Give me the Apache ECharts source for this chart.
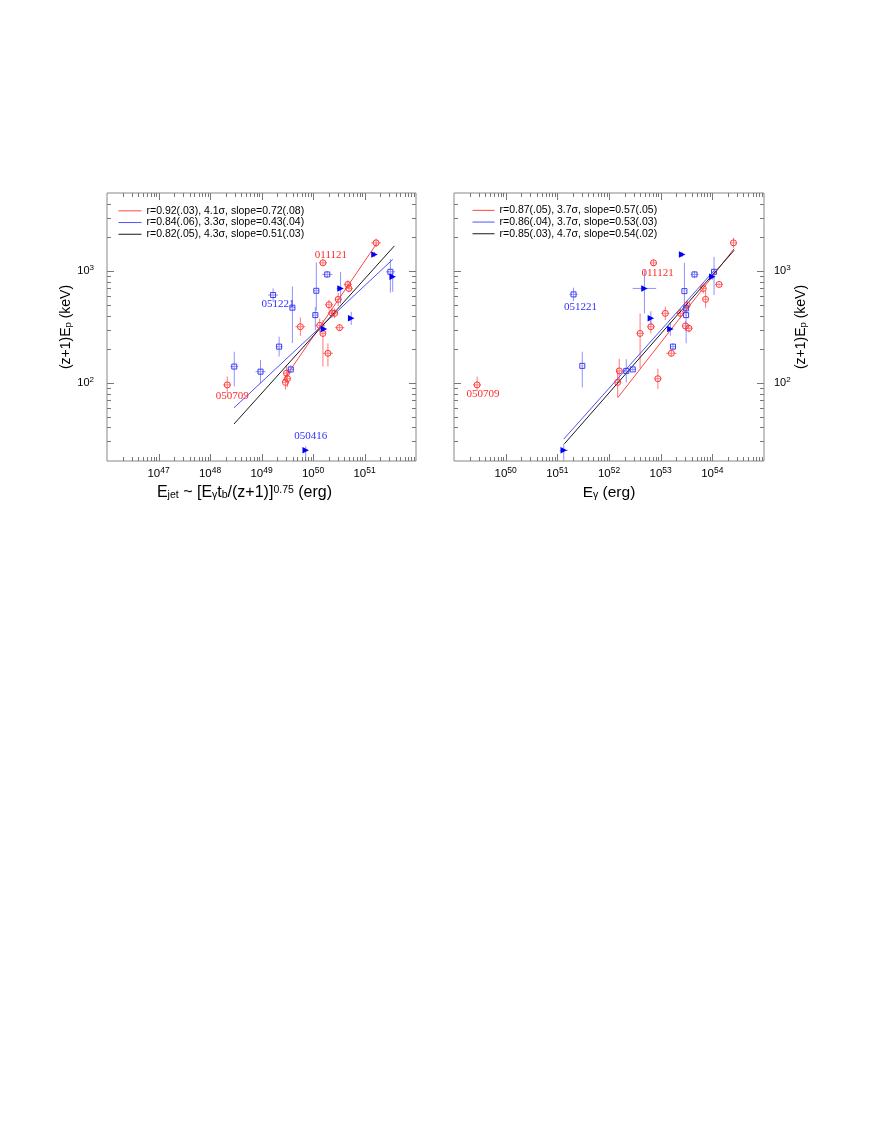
<!DOCTYPE html>
<html><head><meta charset="utf-8">
<script src="https://cdn.jsdelivr.net/npm/echarts@6/dist/echarts.min.js"></script>
<style>html,body{margin:0;padding:0;background:#fff}#c{width:872px;height:1128px}</style>
</head><body><div id="c"></div>
<script>
// ---------- DATA: each point = [x, y, xLow, xHigh, yLow, yHigh] ----------
const leftRed = [
  [1.68e51, 1790, 1.35e51, 2.09e51, 1640, 1960],
  [1.56e50, 1186, 1.31e50, 1.87e50, 1107, 1271],
  [4.75e50, 760, 3.98e50, 5.66e50, 700, 826],
  [4.98e50, 700, 4.17e50, 5.94e50, 645, 760],
  [3.09e50, 559, 2.66e50, 3.59e50, 487, 641],
  [2.04e50, 500, 1.71e50, 2.44e50, 451, 555],
  [2.33e50, 422, 1.95e50, 2.79e50, 380, 467],
  [2.63e50, 419, 2.26e50, 3.05e50, 378, 464],
  [5.69e49, 318, 4.55e49, 7.11e49, 263, 385],
  [1.35e50, 327, 1.08e50, 1.69e50, 285, 376],
  [3.28e50, 312, 2.67e50, 4.04e50, 291, 335],
  [1.56e50, 277, 1.39e50, 1.75e50, 140, 365],
  [1.95e50, 184, 1.56e50, 2.44e50, 140, 226],
  [3.05e49, 122, 2.63e49, 3.53e49, 103, 145],
  [3.19e49, 109, 2.75e49, 3.69e49, 92, 129],
  [2.92e49, 101, 2.52e49, 3.38e49, 87, 117],
  [2.16e48, 96, 1.81e48, 2.58e48, 81, 114]
];
const leftBlueSq = [
  [2.96e48, 140, 2.48e48, 3.53e48, 93, 190],
  [9.57e48, 126, 7.66e48, 1.20e49, 99, 160],
  [2.20e49, 211, 1.89e49, 2.56e49, 172, 259],
  [3.70e49, 132, 3.18e49, 4.30e49, 122, 144],
  [1.68e49, 611, 1.34e49, 2.10e49, 532, 701],
  [3.98e49, 471, 3.55e49, 4.47e49, 227, 728],
  [1.16e50, 667, 1.04e50, 1.30e50, 442, 1194],
  [1.11e50, 404, 1.00e50, 1.24e50, 297, 479],
  [1.89e50, 934, 1.51e50, 2.37e50, 870, 1003],
  [3.18e51, 986, 2.60e51, 3.91e51, 643, 1280]
];
const leftBlueTri = [
  [1.56e51, 1408, 1.45e51, 1.68e51, 1333, 1488],
  [3.53e51, 890, 3.40e51, 3.66e51, 653, 955],
  [3.43e50, 700, 2.87e50, 3.59e50, 514, 985],
  [5.52e50, 378, 5.30e50, 5.75e50, 330, 432],
  [1.63e50, 303, 1.50e50, 1.70e50, 283, 325],
  [7.21e49, 24.9, 7.00e49, 7.40e49, 15, 27]
];
const rightRed = [
  [2.57e54, 1790, 2.28e54, 2.90e54, 1615, 1985],
  [7.28e52, 1186, 6.27e52, 8.45e52, 1107, 1271],
  [1.35e54, 760, 1.13e54, 1.62e54, 735, 786],
  [6.67e53, 700, 5.94e53, 7.48e53, 631, 776],
  [7.41e53, 559, 6.60e53, 8.30e53, 471, 663],
  [3.25e53, 497, 2.90e53, 3.65e53, 448, 551],
  [2.41e53, 419, 2.01e53, 2.88e53, 378, 464],
  [1.23e53, 419, 1.03e53, 1.47e53, 365, 481],
  [6.46e52, 318, 5.40e52, 7.72e52, 277, 365],
  [3.02e53, 323, 2.70e53, 3.40e53, 291, 358],
  [3.51e53, 308, 2.93e53, 4.20e53, 283, 335],
  [1.61e53, 184, 1.28e53, 2.02e53, 172, 197],
  [4.00e52, 277, 3.44e52, 4.65e52, 135, 418],
  [1.58e52, 128, 1.40e52, 1.77e52, 100, 164],
  [1.47e52, 101, 1.31e52, 1.65e52, 74, 131],
  [8.83e52, 109, 7.60e52, 1.03e53, 88, 134],
  [2.80e49, 96, 2.34e49, 3.35e49, 84, 114]
];
const rightBlueSq = [
  [2.06e51, 619, 1.72e51, 2.47e51, 539, 711],
  [3.04e51, 142, 2.90e51, 3.20e51, 91, 190],
  [2.16e52, 128, 1.78e52, 2.62e52, 101, 163],
  [2.88e52, 132, 2.48e52, 3.34e52, 128, 137],
  [1.73e53, 211, 1.58e53, 1.90e53, 197, 226],
  [2.88e53, 662, 2.75e53, 3.02e53, 438, 1185],
  [3.11e53, 404, 2.97e53, 3.26e53, 226, 497],
  [3.11e53, 464, 2.97e53, 3.26e53, 416, 517],
  [4.52e53, 934, 3.78e53, 5.41e53, 870, 1003],
  [1.08e54, 986, 1.03e54, 1.13e54, 611, 1342]
];
const rightBlueTri = [
  [2.60e53, 1408, 2.42e53, 2.80e53, 1333, 1488],
  [1.00e54, 890, 9.50e53, 1.05e54, 837, 946],
  [4.85e52, 700, 2.87e52, 8.20e52, 419, 1023],
  [6.46e52, 378, 6.15e52, 6.80e52, 326, 438],
  [1.54e53, 303, 1.47e53, 1.61e53, 264, 348],
  [1.33e51, 24.9, 1.11e51, 1.60e51, 15, 28.6]
];
// fit lines: [start, end]
const leftFitRed = [[2.55e49, 102.8], [1.73e51, 1766]];
const leftFitBlue = [[2.92e48, 59.8], [3.53e51, 1271]];
const leftFitBlack = [[2.92e48, 42.8], [3.81e51, 1683]];
const rightFitRed = [[1.49e52, 74], [2.65e54, 1592]];
const rightFitBlue = [[1.33e51, 31.4], [1.13e54, 1035]];
const rightFitBlack = [[1.37e51, 28.5], [2.65e54, 1540]];
// legend texts
const leftLegend = ['r=0.92(.03), 4.1\u03c3, slope=0.72(.08)', 'r=0.84(.06), 3.3\u03c3, slope=0.43(.04)', 'r=0.82(.05), 4.3\u03c3, slope=0.51(.03)'];
const rightLegend = ['r=0.87(.05), 3.7\u03c3, slope=0.57(.05)', 'r=0.86(.04), 3.7\u03c3, slope=0.53(.03)', 'r=0.85(.03), 4.7\u03c3, slope=0.54(.02)'];
// axis ranges (decade exponents) and labelled tick exponents
const leftXRange = [46, 52];
const rightXRange = [49, 55];
const yRange = [20, 5000];
const leftXTickExps = [47, 48, 49, 50, 51];
const rightXTickExps = [50, 51, 52, 53, 54];
const yTickExps = [2, 3];
// burst labels: [text, group, index]
const leftNotes = [['011121', 'red', 1], ['051221', 'sq', 4], ['050709', 'red', 16], ['050416', 'tri', 5]];
const rightNotes = [['011121', 'red', 1], ['051221', 'sq', 0], ['050709', 'red', 16]];

// ---------- STYLE ----------
const SANS = '"Liberation Sans", Arial, Helvetica, sans-serif';
const SERIF = '"Liberation Serif", "Times New Roman", serif';
const RED = '#ff3535', RED_ERR = '#ff7a7a';
const BLUE = '#3c3cf0', BLUE_ERR = '#9090ff', TRI = '#0000f5';
const noteOffsets = {
  'L011121': [8, -8], 'L051221': [5, 9], 'L050709': [5, 11], 'L050416': [5, -14],
  'R011121': [4, 10], 'R051221': [7, 13], 'R050709': [6, 9]
};
const noteColor = { red: '#ff2a2a', sq: '#3030ff', tri: '#3030ff' };

const chart = echarts.init(document.getElementById('c'));

function errRender(color) {
  return function (params, api) {
    const c = api.coord([api.value(0), api.value(1)]);
    const xl = api.coord([api.value(2), api.value(1)]);
    const xh = api.coord([api.value(3), api.value(1)]);
    const yl = api.coord([api.value(0), api.value(4)]);
    const yh = api.coord([api.value(0), api.value(5)]);
    const st = { stroke: color, lineWidth: 1 };
    return { type: 'group', children: [
      { type: 'line', shape: { x1: xl[0], y1: c[1], x2: xh[0], y2: c[1] }, style: st },
      { type: 'line', shape: { x1: c[0], y1: yl[1], x2: c[0], y2: yh[1] }, style: st }
    ] };
  };
}
function tickRender(params, api) {
  const cs = params.coordSys;
  const kind = api.value(2), major = api.value(3);
  const len = major ? 7 : 4;
  const st = { stroke: '#777', lineWidth: 1 };
  if (kind === 0) {
    const x = Math.round(api.coord([api.value(0), api.value(1)])[0]) + 0.5;
    const b = cs.y + cs.height, t = cs.y;
    return { type: 'group', children: [
      { type: 'line', shape: { x1: x, y1: b, x2: x, y2: b - len }, style: st },
      { type: 'line', shape: { x1: x, y1: t, x2: x, y2: t + len }, style: st }
    ] };
  } else {
    const y = Math.round(api.coord([api.value(0), api.value(1)])[1]) + 0.5;
    const l = cs.x, r = cs.x + cs.width;
    return { type: 'group', children: [
      { type: 'line', shape: { x1: l, y1: y, x2: l + len, y2: y }, style: st },
      { type: 'line', shape: { x1: r, y1: y, x2: r - len, y2: y }, style: st }
    ] };
  }
}
function tickData(xr) {
  const out = [];
  const xref = Math.pow(10, (xr[0] + xr[1]) / 2);
  for (let e = xr[0]; e < xr[1]; e++) {
    for (let m = 1; m <= 9; m++) {
      if (e === xr[0] && m === 1) continue;
      out.push([m * Math.pow(10, e), 300, 0, m === 1 ? 1 : 0]);
    }
  }
  for (let e = 1; e <= 3; e++) {
    for (let m = 1; m <= 9; m++) {
      const v = m * Math.pow(10, e);
      if (v <= yRange[0] || v >= yRange[1]) continue;
      out.push([xref, v, 1, m === 1 ? 1 : 0]);
    }
  }
  return out;
}
function decadeFormatter(exps) {
  return function (v) {
    const e = Math.log10(v), r = Math.round(e);
    if (Math.abs(e - r) > 1e-6 || exps.indexOf(r) < 0) return '';
    return '{b|10}{s|' + r + '}';
  };
}
const xTickRich = {
  b: { fontSize: 11.5, fontFamily: SANS, color: '#000', lineHeight: 15 },
  s: { fontSize: 8.5, fontFamily: SANS, color: '#000', verticalAlign: 'top', lineHeight: 10 }
};
const yTickRich = {
  b: { fontSize: 11, fontFamily: SANS, color: '#000', lineHeight: 14 },
  s: { fontSize: 8, fontFamily: SANS, color: '#000', verticalAlign: 'top', lineHeight: 9 }
};
const titleRich = {
  b: { fontSize: 16, fontFamily: SANS, color: '#000', padding: [0, 0, 4, 0] },
  sub: { fontSize: 10.5, fontFamily: SANS, color: '#000' },
  sup: { fontSize: 10.5, fontFamily: SANS, color: '#000', verticalAlign: 'top' }
};
const titleRichR = {
  b: { fontSize: 15.5, fontFamily: SANS, color: '#000', padding: [0, 0, 4, 0] },
  sub: { fontSize: 10.5, fontFamily: SANS, color: '#000' }
};
const ytitleRich = {
  b: { fontSize: 14, fontFamily: SANS, color: '#000', padding: [0, 0, 4, 0] },
  sub: { fontSize: 9.5, fontFamily: SANS, color: '#000' }
};

function pointSeries(panel, xi, red, sq, tri, notes) {
  const P = panel === 0 ? 'L' : 'R';
  const groups = { red: red, sq: sq, tri: tri };
  const noteFor = {};
  notes.forEach(n => { noteFor[n[1] + ':' + n[2]] = n[0]; });
  function items(g) {
    return groups[g].map((d, i) => {
      const it = { value: [d[0], d[1]] };
      const t = noteFor[g + ':' + i];
      if (t) {
        it.label = { show: true, position: 'inside', formatter: t, offset: noteOffsets[P + t],
          color: noteColor[g], fontFamily: SERIF, fontSize: 11 };
      }
      return it;
    });
  }
  const base = { xAxisIndex: xi, yAxisIndex: xi, silent: true, animation: false };
  return [
    Object.assign({ type: 'custom', renderItem: errRender(RED_ERR), data: red, encode: { x: 0, y: 1 }, clip: true, z: 1 }, base),
    Object.assign({ type: 'custom', renderItem: errRender(BLUE_ERR), data: sq, encode: { x: 0, y: 1 }, clip: true, z: 1 }, base),
    Object.assign({ type: 'custom', renderItem: errRender(BLUE_ERR), data: tri, encode: { x: 0, y: 1 }, clip: true, z: 1 }, base),
    Object.assign({ type: 'scatter', data: items('red'), symbol: 'circle', symbolSize: 6,
      itemStyle: { color: 'rgba(255,255,255,0)', borderColor: RED, borderWidth: 1, opacity: 1 }, z: 4 }, base),
    Object.assign({ type: 'scatter', data: items('sq'), symbol: 'rect', symbolSize: 5,
      itemStyle: { color: 'rgba(255,255,255,0)', borderColor: BLUE, borderWidth: 1, opacity: 1 }, z: 4 }, base),
    Object.assign({ type: 'scatter', data: items('tri'), symbol: 'triangle', symbolSize: 6.5, symbolRotate: -90,
      itemStyle: { color: TRI, opacity: 1 }, z: 4 }, base),
    Object.assign({ type: 'custom', renderItem: tickRender, data: tickData(panel === 0 ? leftXRange : rightXRange), encode: { x: 0, y: 1 }, z: 6 }, base)
  ];
}
function fitSeries(xi, names, fits, colors) {
  return fits.map((f, k) => ({
    type: 'line', name: names[k], xAxisIndex: xi, yAxisIndex: xi, data: f, symbol: 'none', showSymbol: false,
    lineStyle: { color: colors[k], width: 1 }, itemStyle: { color: colors[k] }, silent: true, z: 3, animation: false
  }));
}
const fitColors = ['#ff4545', '#5050ff', '#1a1a1a'];
const legendCommon = { orient: 'vertical', itemHeight: 11.7, itemGap: 0, selectedMode: false,
  itemStyle: { opacity: 0, borderWidth: 0 }, lineStyle: { width: 1 },
  textStyle: { fontSize: 10.5, fontFamily: SANS, color: '#000', lineHeight: 11.7 } };

const option = {
  backgroundColor: '#fff',
  animation: false,
  grid: [
    { left: 107, top: 193, width: 309, height: 268, show: true, borderColor: '#888', borderWidth: 1, backgroundColor: 'rgba(0,0,0,0)' },
    { left: 454, top: 193, width: 310, height: 268, show: true, borderColor: '#888', borderWidth: 1, backgroundColor: 'rgba(0,0,0,0)' }
  ],
  xAxis: [
    { type: 'log', gridIndex: 0, logBase: 10, min: Math.pow(10, leftXRange[0]), max: Math.pow(10, leftXRange[1]),
      axisLine: { show: false }, axisTick: { show: false }, splitLine: { show: false }, minorTick: { show: false },
      axisLabel: { formatter: decadeFormatter(leftXTickExps), rich: xTickRich, margin: 5, showMinLabel: true, showMaxLabel: true },
      name: '{b|E}{sub|jet}{b| ~ [E}{sub|\u03b3}{b|t}{sub|b}{b|/(z+1)]}{sup|0.75}{b| (erg)}',
      nameLocation: 'middle', nameGap: 24, nameTextStyle: { rich: titleRich, padding: [0, 34, 0, 0] } },
    { type: 'log', gridIndex: 1, logBase: 10, min: Math.pow(10, rightXRange[0]), max: Math.pow(10, rightXRange[1]),
      axisLine: { show: false }, axisTick: { show: false }, splitLine: { show: false }, minorTick: { show: false },
      axisLabel: { formatter: decadeFormatter(rightXTickExps), rich: xTickRich, margin: 5, showMinLabel: true, showMaxLabel: true },
      name: '{b|E}{sub|\u03b3}{b| (erg)}',
      nameLocation: 'middle', nameGap: 24, nameTextStyle: { rich: titleRichR } }
  ],
  yAxis: [
    { type: 'log', gridIndex: 0, logBase: 10, min: yRange[0], max: yRange[1], position: 'left',
      axisLine: { show: false }, axisTick: { show: false }, splitLine: { show: false }, minorTick: { show: false },
      axisLabel: { formatter: decadeFormatter(yTickExps), rich: yTickRich, margin: 13, showMinLabel: true, showMaxLabel: true },
      name: '{b|(z+1)E}{sub|p}{b| (keV)}', nameLocation: 'middle', nameRotate: 90, nameGap: 29,
      nameTextStyle: { rich: ytitleRich } },
    { type: 'log', gridIndex: 1, logBase: 10, min: yRange[0], max: yRange[1], position: 'right',
      axisLine: { show: false }, axisTick: { show: false }, splitLine: { show: false }, minorTick: { show: false },
      axisLabel: { formatter: decadeFormatter(yTickExps), rich: yTickRich, margin: 10, showMinLabel: true, showMaxLabel: true },
      name: '{b|(z+1)E}{sub|p}{b| (keV)}', nameLocation: 'middle', nameRotate: 90, nameGap: 19,
      nameTextStyle: { rich: ytitleRich } }
  ],
  legend: [
    Object.assign({ data: leftLegend, left: 113, top: 200, itemWidth: 23 }, legendCommon),
    Object.assign({ data: rightLegend, left: 467, top: 199.5, itemWidth: 22 }, legendCommon)
  ],
  series: [].concat(
    pointSeries(0, 0, leftRed, leftBlueSq, leftBlueTri, leftNotes),
    pointSeries(1, 1, rightRed, rightBlueSq, rightBlueTri, rightNotes),
    fitSeries(0, leftLegend, [leftFitRed, leftFitBlue, leftFitBlack], fitColors),
    fitSeries(1, rightLegend, [rightFitRed, rightFitBlue, rightFitBlack], fitColors)
  )
};
chart.setOption(option);
</script>
</body></html>
